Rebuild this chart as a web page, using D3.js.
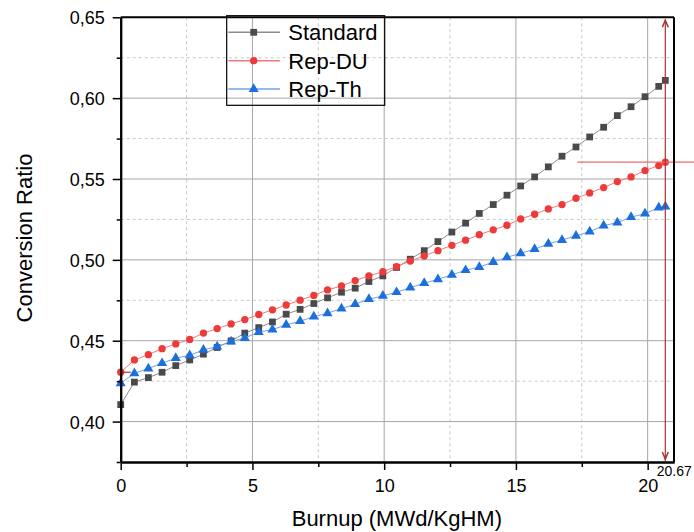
<!DOCTYPE html>
<html lang="en">
<head>
<meta charset="UTF-8">
<title>Conversion Ratio</title>
<style>
    body { margin: 0; background: #fff; }
    svg text { font-family: "Liberation Sans", Arial, sans-serif; fill: #000; }
</style>
</head>
<body>
<svg width="694" height="532"></svg>
<script src="https://d3js.org/d3.v7.min.js"></script>
<script>
    // burnup steps (MWd/KgHM)
    const burnup = [0, 0.52, 1.05, 1.57, 2.09, 2.62, 3.14, 3.66, 4.19, 4.71,
        5.24, 5.76, 6.28, 6.81, 7.33, 7.85, 8.38, 8.90, 9.42, 9.95,
        10.47, 10.99, 11.52, 12.04, 12.57, 13.09, 13.61, 14.14, 14.66, 15.18,
        15.71, 16.23, 16.75, 17.28, 17.80, 18.33, 18.85, 19.37, 19.90, 20.42, 20.67];

    const standard = [0.4105, 0.4244, 0.4272, 0.4305, 0.4346, 0.4381, 0.4417, 0.4458, 0.4499, 0.4547,
        0.4581, 0.4616, 0.4664, 0.4694, 0.4730, 0.4765, 0.4800, 0.4825, 0.4866, 0.4901,
        0.4953, 0.5004, 0.5057, 0.5113, 0.5172, 0.5227, 0.5287, 0.5342, 0.5400, 0.5457,
        0.5513, 0.5575, 0.5641, 0.5698, 0.5760, 0.5820, 0.5892, 0.5947, 0.6009, 0.6073, 0.6110];

    const repDU = [0.4305, 0.4381, 0.4414, 0.4451, 0.4480, 0.4508, 0.4547, 0.4575, 0.4604, 0.4631,
        0.4662, 0.4691, 0.4721, 0.4751, 0.4780, 0.4814, 0.4839, 0.4872, 0.4901, 0.4927,
        0.4958, 0.4993, 0.5024, 0.5057, 0.5090, 0.5122, 0.5156, 0.5186, 0.5214, 0.5253,
        0.5282, 0.5315, 0.5342, 0.5381, 0.5414, 0.5447, 0.5484, 0.5513, 0.5552, 0.5583, 0.5604];

    const repTh = [0.4237, 0.4299, 0.4328, 0.4361, 0.4392, 0.4410, 0.4443, 0.4464, 0.4495, 0.4517,
        0.4553, 0.4569, 0.4598, 0.4621, 0.4649, 0.4670, 0.4699, 0.4726, 0.4757, 0.4777,
        0.4800, 0.4828, 0.4856, 0.4880, 0.4907, 0.4936, 0.4955, 0.4987, 0.5016, 0.5041,
        0.5066, 0.5099, 0.5123, 0.5148, 0.5175, 0.5212, 0.5230, 0.5264, 0.5286, 0.5323, 0.5329];

    const seriesNames = ["Standard", "Rep-DU", "Rep-Th"];
    const xTicks = [0, 5, 10, 15, 20];
    const xMinor = [2.5, 7.5, 12.5, 17.5];
    const yTicks = [0.40, 0.45, 0.50, 0.55, 0.60, 0.65];
    const yMinor = [0.375, 0.425, 0.475, 0.525, 0.575, 0.625];
    const readerX = 20.67;

    var svg = d3.select("svg");
    const mLeft = 120.7, mRight = 674, mTop = 17.3, mBottom = 462;

    var x = d3.scaleLinear().domain([0, 21]).range([mLeft, mRight]);
    var y = d3.scaleLinear().domain([0.375, 0.65]).range([mBottom, mTop]);

    // grid
    var grid = svg.append("g");
    grid.selectAll(".vmin").data(xMinor).enter().append("line")
        .attr("x1", d => x(d)).attr("x2", d => x(d)).attr("y1", mTop).attr("y2", mBottom)
        .attr("stroke", "#c8c8c8").attr("stroke-dasharray", "3,3");
    grid.selectAll(".hmin").data(yMinor.slice(1)).enter().append("line")
        .attr("y1", d => y(d)).attr("y2", d => y(d)).attr("x1", mLeft).attr("x2", mRight)
        .attr("stroke", "#c8c8c8").attr("stroke-dasharray", "3,3");
    grid.selectAll(".vmaj").data(xTicks.slice(1)).enter().append("line")
        .attr("x1", d => x(d)).attr("x2", d => x(d)).attr("y1", mTop).attr("y2", mBottom)
        .attr("stroke", "#a6a6a6");
    grid.selectAll(".hmaj").data(yTicks.slice(0, -1)).enter().append("line")
        .attr("y1", d => y(d)).attr("y2", d => y(d)).attr("x1", mLeft).attr("x2", mRight)
        .attr("stroke", "#a6a6a6");

    // series
    var series = [
        {name: seriesNames[0], values: standard, line: "#8c8c8c", mark: "#4a4a4a", sym: d3.symbolSquare, size: 46},
        {name: seriesNames[1], values: repDU, line: "#f27a7a", mark: "#ee3a3a", sym: d3.symbolCircle, size: 42},
        {name: seriesNames[2], values: repTh, line: "#6ea3e8", mark: "#1c6fdc", sym: d3.symbolTriangle, size: 44}
    ];

    var line = d3.line().x(d => x(d[0])).y(d => y(d[1]));

    series.forEach(function(s) {
        var pts = burnup.map((b, i) => [b, s.values[i]]);
        svg.append("path")
            .attr("d", line(pts))
            .attr("fill", "none")
            .attr("stroke", s.line)
            .attr("stroke-width", 1);
        svg.append("g").selectAll("path").data(pts).enter().append("path")
            .attr("transform", d => "translate(" + x(d[0]) + "," + y(d[1]) + ")")
            .attr("d", d3.symbol().type(s.sym).size(s.size))
            .attr("fill", s.mark);
    });

    // data reader lines
    var reader = "#a83232";
    svg.append("line")
        .attr("x1", x(readerX) - 88).attr("x2", 694)
        .attr("y1", y(repDU[repDU.length - 1])).attr("y2", y(repDU[repDU.length - 1]))
        .attr("stroke", "#f06a6a").attr("stroke-width", 1.2);
    svg.append("line")
        .attr("x1", x(readerX)).attr("x2", x(readerX)).attr("y1", mTop + 2).attr("y2", mBottom - 1)
        .attr("stroke", reader).attr("stroke-width", 1.2);
    svg.append("path")
        .attr("d", "M" + (x(readerX) - 3) + "," + (mTop + 10) + "L" + x(readerX) + "," + (mTop + 3) + "L" + (x(readerX) + 3) + "," + (mTop + 10))
        .attr("fill", "none").attr("stroke", reader).attr("stroke-width", 1.5);
    svg.append("path")
        .attr("d", "M" + (x(readerX) - 3) + "," + (mBottom - 10) + "L" + x(readerX) + "," + (mBottom - 3) + "L" + (x(readerX) + 3) + "," + (mBottom - 10))
        .attr("fill", "none").attr("stroke", reader).attr("stroke-width", 1.5);
    svg.append("line")
        .attr("x1", x(0)).attr("x2", x(0) + 10)
        .attr("y1", y(repDU[0])).attr("y2", y(repDU[0]))
        .attr("stroke", reader).attr("stroke-width", 1.2);
    svg.append("text")
        .attr("x", x(readerX) - 8.5).attr("y", 476)
        .style("font-size", "14px")
        .text(readerX.toFixed(2));

    // axes
    var fmt = d => d3.format(".2f")(d).replace(".", ",");
    var yAxis = svg.append("g").attr("transform", "translate(" + mLeft + ",0)")
        .call(d3.axisLeft(y).tickValues(yTicks).tickSize(8).tickSizeOuter(0).tickFormat(fmt));
    svg.append("g").attr("transform", "translate(" + mLeft + ",0)")
        .call(d3.axisLeft(y).tickValues(yMinor).tickSize(4).tickSizeOuter(0).tickFormat(""));
    var xAxis = svg.append("g").attr("transform", "translate(0," + mBottom + ")")
        .call(d3.axisBottom(x).tickValues(xTicks).tickSize(8).tickSizeOuter(0).tickFormat(d3.format("d")));
    svg.append("g").attr("transform", "translate(0," + mBottom + ")")
        .call(d3.axisBottom(x).tickValues(xMinor).tickSize(5).tickSizeOuter(0).tickFormat(""));

    svg.selectAll(".domain").attr("stroke", "#000").attr("stroke-width", 2);
    svg.selectAll(".tick line").attr("stroke", "#000").attr("stroke-width", 1.5);
    yAxis.selectAll("text").style("font-size", "18px").attr("x", -16).attr("dy", "0.36em");
    xAxis.selectAll("text").style("font-size", "18px").attr("y", 17).attr("dy", "0.71em");

    // frame top/right
    svg.append("line").attr("x1", mLeft).attr("x2", mRight).attr("y1", mTop).attr("y2", mTop)
        .attr("stroke", "#000").attr("stroke-width", 2);
    svg.append("line").attr("x1", mRight).attr("x2", mRight).attr("y1", mTop).attr("y2", mBottom)
        .attr("stroke", "#000").attr("stroke-width", 2);

    // titles
    svg.append("text")
        .attr("x", (mLeft + mRight) / 2 - 0.5).attr("y", 526)
        .attr("text-anchor", "middle")
        .style("font-size", "22px")
        .text("Burnup (MWd/KgHM)");
    svg.append("text")
        .attr("transform", "translate(32," + 238 + ") rotate(-90)")
        .attr("text-anchor", "middle")
        .style("font-size", "22px")
        .text("Conversion Ratio");

    // legend
    var legend = svg.append("g");
    legend.append("rect")
        .attr("x", 226.7).attr("y", 15.7).attr("width", 158).attr("height", 89.6)
        .attr("fill", "none").attr("stroke", "#000").attr("stroke-width", 1.2);
    series.forEach(function(s, i) {
        var ly = 32.3 + i * 28.4;
        legend.append("line").attr("x1", 228.3).attr("x2", 280).attr("y1", ly).attr("y2", ly)
            .attr("stroke", s.line).attr("stroke-width", 1.5);
        legend.append("path")
            .attr("transform", "translate(253.7," + ly + ")")
            .attr("d", d3.symbol().type(s.sym).size(s.size))
            .attr("fill", s.mark);
        legend.append("text").attr("x", 288.3).attr("y", ly).attr("dy", "0.36em")
            .style("font-size", "22px")
            .text(s.name);
    });
</script>
</body>
</html>
